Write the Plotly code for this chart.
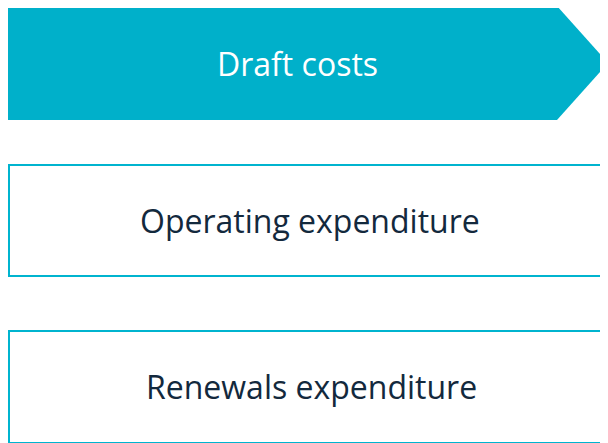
import plotly.graph_objects as go

# Diagram content
labels = ["Draft costs", "Operating expenditure", "Renewals expenditure"]
label_colors = ["#FFFFFF", "#13293D", "#13293D"]

# Page body has an 8px margin, so the figure is 600x435 and coordinates are screen-8
W, H = 600, 435
FILL = "#00B0CA"
LINE = "#00B4CF"

fig = go.Figure()

# Header arrow (pentagon)
fig.add_shape(type="path", path="M 0 -2 L 549 -2 L 600 55 L 549 112 L 0 112 Z",
              fillcolor=FILL, line=dict(width=0), layer="below")
# Outlined boxes
fig.add_shape(type="rect", x0=1, y0=157, x1=610, y1=268,
              line=dict(color=LINE, width=2), fillcolor="rgba(0,0,0,0)")
fig.add_shape(type="rect", x0=1, y0=323, x1=610, y1=435,
              line=dict(color=LINE, width=2), fillcolor="rgba(0,0,0,0)")

centers = [(289, 55), (302, 212), (303, 378)]
for (cx, cy), txt, col in zip(centers, labels, label_colors):
    fig.add_annotation(x=cx, y=cy, text=txt, showarrow=False,
                       font=dict(family="Open Sans", size=32, color=col),
                       xanchor="center", yanchor="middle")

fig.update_xaxes(range=[0, W], visible=False, fixedrange=True)
fig.update_yaxes(range=[H, 0], visible=False, fixedrange=True)
fig.update_layout(width=W, height=H, margin=dict(l=0, r=0, t=0, b=0),
                  paper_bgcolor="white", plot_bgcolor="white", showlegend=False)

fig.write_html("out.html", config={"displayModeBar": False})
